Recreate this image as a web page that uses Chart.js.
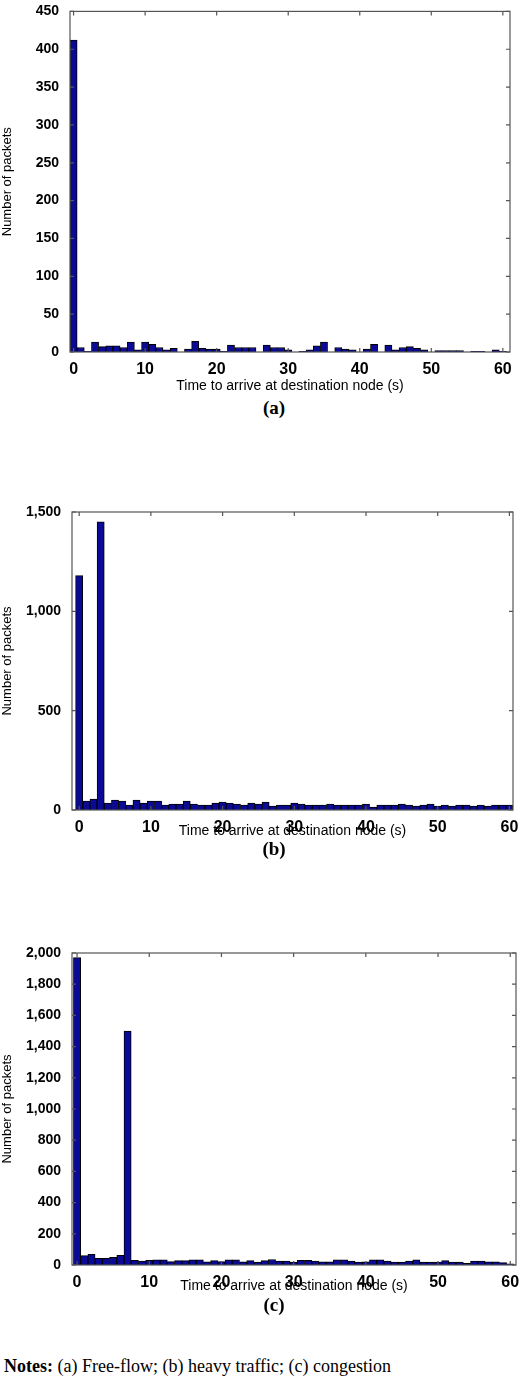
<!DOCTYPE html>
<html><head><meta charset="utf-8">
<script src="https://cdn.jsdelivr.net/npm/chart.js@4"></script>
<style>
body{margin:0;background:#fff;width:520px;height:1390px;position:relative;overflow:hidden}
.c{position:absolute;left:0;width:520px}
.cap{position:absolute;width:520px;text-align:center;font:bold 19px "Liberation Serif",serif;left:14px}
#notes{position:absolute;left:4px;top:1356px;font:18px "Liberation Serif",serif}
</style></head><body>
<div class="c" style="top:0;height:395px"><canvas id="ca"></canvas></div>
<div class="c" style="top:500px;height:340px"><canvas id="cb"></canvas></div>
<div class="c" style="top:940px;height:355px"><canvas id="cc"></canvas></div>
<div class="cap" style="top:397px">(a)</div>
<div class="cap" style="top:838px">(b)</div>
<div class="cap" style="top:1294px">(c)</div>
<div id="notes"><b>Notes:</b> (a) Free-flow; (b) heavy traffic; (c) congestion</div>
<script>
const bins = Array.from({length:61},(_, i)=>i);
const xTicks = [0,10,20,30,40,50,60];
const countsA = [412,6,1,13,7,8,8,6,13,3,13,10,6,3,5,0,4,14,5,4,4,1,9,6,6,6,0,9,6,6,3,0,1,3,8,13,0,6,4,3,0,4,10,0,9,3,6,7,5,3,0,2,2,2,2,0,1,1,0,3,1];
const countsB = [1180,45,55,1450,35,50,45,25,50,35,45,45,25,30,30,45,30,25,25,35,40,35,30,25,35,30,40,20,25,25,35,30,25,25,25,30,25,25,25,25,30,15,25,25,25,30,25,20,25,30,20,25,20,25,25,20,25,20,25,25,25];
const countsC = [1970,60,68,42,42,49,62,1500,30,25,30,33,33,22,28,28,33,33,20,28,22,33,33,20,28,18,28,35,25,25,18,30,30,25,20,20,33,33,25,18,20,33,33,25,18,18,25,33,18,18,18,28,18,18,10,25,25,20,20,15,8];
const xTitle = 'Time to arrive at destination node (s)';
const yTitle = 'Number of packets';

const frame = {id:'frame',afterDraw(ch){const a=ch.chartArea,c=ch.ctx;c.save();c.strokeStyle='#555';c.lineWidth=1.2;c.strokeRect(a.left,a.top,a.right-a.left,a.bottom-a.top);
  c.beginPath();const ys=ch.scales.y;ys.ticks.forEach(t=>{const y=ys.getPixelForValue(t.value);c.moveTo(a.left,y);c.lineTo(a.left+4,y);c.moveTo(a.right,y);c.lineTo(a.right-4,y);});
  const xs=ch.scales.x;xTicks.forEach(v=>{const x=xs.getPixelForValue(v);c.moveTo(x,a.bottom);c.lineTo(x,a.bottom-4);c.moveTo(x,a.top);c.lineTo(x,a.top+4);});c.stroke();c.restore();}};

function make(id,data,xmin,xmax,ymax,ystep,yw,xh,pt,pr){
  new Chart(document.getElementById(id),{
    type:'bar',
    data:{datasets:[{data:bins.map((b,i)=>({x:b,y:data[i]})),backgroundColor:'#0a0a96',borderColor:'#000',borderWidth:1,barPercentage:1,categoryPercentage:1}]},
    options:{responsive:true,maintainAspectRatio:false,animation:false,
      layout:{padding:{top:pt,right:pr,left:0,bottom:0}},
      plugins:{legend:{display:false},tooltip:{enabled:false}},
      scales:{
        x:{type:'linear',min:xmin,max:xmax,offset:false,
          grid:{display:false},border:{display:false},
          afterBuildTicks:s=>{s.ticks=xTicks.map(v=>({value:v}));},
          ticks:{color:'#000',font:{family:'Liberation Sans',weight:'bold',size:16},padding:0,autoSkip:false,maxRotation:0},
          title:{display:true,text:xTitle,color:'#000',font:{family:'Liberation Sans',size:14},padding:0},
          afterFit:s=>{s.height=xh;}},
        y:{min:0,max:ymax,
          grid:{display:false},border:{display:false},
          ticks:{stepSize:ystep,color:'#000',font:{family:'Liberation Sans',weight:'bold',size:14},padding:3},
          title:{display:true,text:yTitle,color:'#000',font:{family:'Liberation Sans',size:13},padding:0},
          afterFit:s=>{s.width=yw;}}
      }},
    plugins:[frame]
  });
}
make('ca',countsA,-0.5,61,450,50,70,43,7,10);
make('cb',countsB,-1,60.5,1500,500,72,30,12,7);
make('cc',countsC,-0.7,60.8,2000,200,72,30,13,4);
</script>
</body></html>
